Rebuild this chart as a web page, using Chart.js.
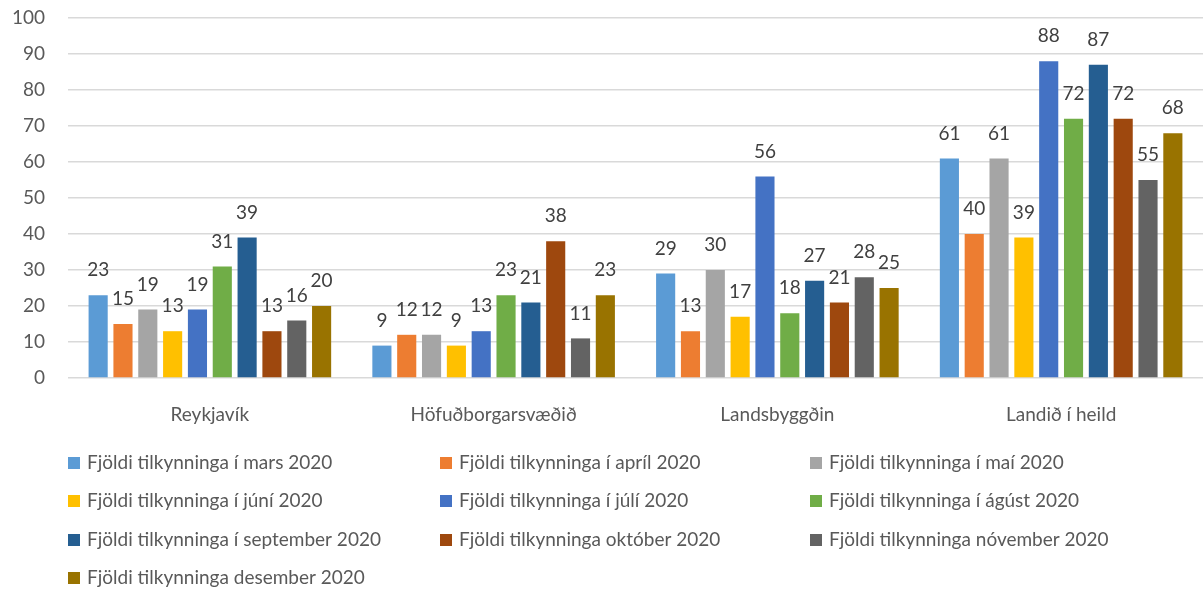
<!DOCTYPE html>
<html>
<head>
<meta charset="utf-8">
<script src="https://cdn.jsdelivr.net/npm/chart.js@4.4.0/dist/chart.umd.min.js"></script>
<style>
  html, body { margin: 0; padding: 0; background: #fff; }
  #wrap { width: 1203px; height: 612px; }
</style>
</head>
<body>
<div id="wrap"><canvas id="graph" width="1203" height="612"></canvas></div>
<script>
// gögn lesin af myndinni
var categories = ["Reykjavík", "Höfuðborgarsvæðið", "Landsbyggðin", "Landið í heild"];
var seriesNames = [
    "Fjöldi tilkynninga í mars 2020",
    "Fjöldi tilkynninga í apríl 2020",
    "Fjöldi tilkynninga í maí 2020",
    "Fjöldi tilkynninga í júní 2020",
    "Fjöldi tilkynninga í júlí 2020",
    "Fjöldi tilkynninga í ágúst 2020",
    "Fjöldi tilkynninga í september 2020",
    "Fjöldi tilkynninga október 2020",
    "Fjöldi tilkynninga nóvember 2020",
    "Fjöldi tilkynninga desember 2020"
];
var mars = [23, 9, 29, 61];
var april = [15, 12, 13, 40];
var mai = [19, 12, 30, 61];
var juni = [13, 9, 17, 39];
var juli = [19, 13, 56, 88];
var agust = [31, 23, 18, 72];
var september = [39, 21, 27, 87];
var oktober = [13, 38, 21, 72];
var november = [16, 11, 28, 55];
var desember = [20, 23, 25, 68];
var yTicks = [0, 10, 20, 30, 40, 50, 60, 70, 80, 90, 100];

var colors = ["#5B9BD5", "#ED7D31", "#A5A5A5", "#FFC000", "#4472C4",
              "#70AD47", "#255E91", "#9E480E", "#636363", "#997300"];
var allSeries = [mars, april, mai, juni, juli, agust, september, oktober, november, desember];

var FONT = "Lato";
var FSIZE = 19;
var TEXT = "#595959";

var datasets = allSeries.map(function (vals, i) {
    return {
        label: seriesNames[i],
        data: vals,
        backgroundColor: colors[i],
        borderWidth: 0,
        categoryPercentage: 0.875,
        barPercentage: 0.77
    };
});

// tölur ofan á súlum
var valueLabels = {
    id: "valueLabels",
    afterDatasetsDraw: function (chart) {
        var ctx = chart.ctx;
        ctx.save();
        ctx.font = FSIZE + "px " + FONT;
        ctx.fillStyle = "#404040";
        ctx.textAlign = "center";
        ctx.textBaseline = "middle";
        chart.data.datasets.forEach(function (ds, i) {
            chart.getDatasetMeta(i).data.forEach(function (bar, j) {
                ctx.fillText(ds.data[j], bar.x, bar.y - 25);
            });
        });
        ctx.restore();
    }
};

// skýringar í 3 dálkum eins og í Excel
var gridLegend = {
    id: "gridLegend",
    afterDraw: function (chart) {
        var ctx = chart.ctx;
        var colX = [68, 440, 810];
        var rowY = [463, 501, 540, 578];
        ctx.save();
        ctx.font = FSIZE + "px " + FONT;
        ctx.textBaseline = "middle";
        ctx.textAlign = "left";
        chart.data.datasets.forEach(function (ds, i) {
            var x = colX[i % 3], y = rowY[Math.floor(i / 3)];
            ctx.fillStyle = ds.backgroundColor;
            ctx.fillRect(x, y - 6, 12, 12);
            ctx.fillStyle = TEXT;
            ctx.fillText(ds.label, x + 19, y);
        });
        ctx.restore();
    }
};

new Chart(document.getElementById("graph").getContext("2d"), {
    type: "bar",
    data: { labels: categories, datasets: datasets },
    options: {
        responsive: false,
        animation: false,
        layout: { padding: { top: 18, right: 0, bottom: 174, left: 0 } },
        plugins: { legend: { display: false }, tooltip: { enabled: false } },
        scales: {
            x: {
                grid: { display: false },
                border: { display: false },
                ticks: { color: TEXT, font: { family: FONT, size: FSIZE }, padding: 17 },
                afterFit: function (s) { s.height = 60; s.paddingLeft = 0; s.paddingRight = 0; }
            },
            y: {
                min: 0,
                max: 100,
                afterBuildTicks: function (s) { s.ticks = yTicks.map(function (v) { return { value: v }; }); },
                grid: { color: "#D9D9D9", lineWidth: 1.5, drawTicks: false },
                border: { display: false },
                ticks: { color: TEXT, font: { family: FONT, size: FSIZE }, padding: 23 },
                afterFit: function (s) { s.width = 68; s.paddingTop = 0; s.paddingBottom = 0; }
            }
        }
    },
    plugins: [valueLabels, gridLegend]
});
</script>
</body>
</html>
